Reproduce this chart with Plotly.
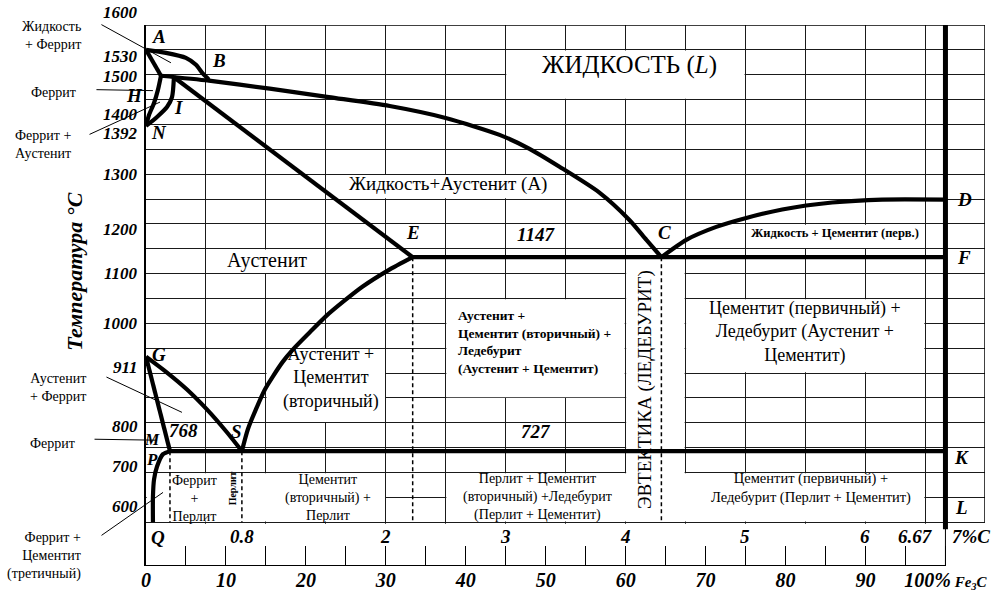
import plotly.graph_objects as go

# ---------------- data: Fe–Fe3C diagram as drawn (x = %C, t = °C) ----------------
AB_x  = [0.0, 0.167, 0.333, 0.417, 0.475, 0.525]
AB_t  = [1550, 1544, 1534, 1520, 1502, 1490]
AH_x  = [0.0, 0.125]
AH_t  = [1550, 1498]
HBC_x = [0.125, 0.525, 1.033, 1.525, 2.033, 2.5, 2.95, 3.2, 3.45, 3.783, 4.033, 4.175, 4.3]
HBC_t = [1498, 1488, 1472, 1455, 1437, 1413, 1379, 1351, 1315, 1263, 1208, 1168, 1133]
HN_x  = [0.125, 0.1, 0.067, 0.025, 0.0]
HN_t  = [1498, 1470, 1443, 1419, 1397]
NJ_x  = [0.0, 0.092, 0.175, 0.217, 0.233]
NJ_t  = [1397, 1415, 1435, 1455, 1495]
JE_x  = [0.233, 2.225]
JE_t  = [1495, 1133]
ECF_x = [2.225, 6.67]
ECF_t = [1133, 1133]
CD_x  = [4.3, 4.508, 4.758, 5.008, 5.308, 5.725, 6.142, 6.67]
CD_t  = [1133, 1168, 1194, 1212, 1229, 1243, 1249, 1249]
SE_x  = [0.8, 0.85, 0.917, 0.992, 1.058, 1.142, 1.225, 1.367, 1.5, 1.658, 1.808, 2.017, 2.225]
SE_t  = [743, 787, 827, 867, 893, 923, 947, 982, 1014, 1046, 1074, 1106, 1133]
GS_x  = [0.0, 0.175, 0.342, 0.508, 0.675, 0.8]
GS_t  = [933, 901, 867, 827, 781, 743]
GP_x  = [0.0, 0.2]
GP_t  = [933, 743]
PSK_x = [0.2, 6.67]
PSK_t = [743, 743]
PQ_x  = [0.2, 0.142, 0.092, 0.067, 0.058, 0.058]
PQ_t  = [743, 737, 712, 686, 652, 600]

# cementite (Fe3C) vertical, in % Fe3C
FE3C_x = [100, 100]
FE3C_t = [586, 1600]

# dashed drop lines under P, S, E, C
DROP_x   = [0.2, 0.8, 2.225, 4.3]
DROP_top = [743, 743, 1133, 1133]
DROP_bot = 600

# axis tick labels
T_TICKS    = [1600, 1530, 1500, 1400, 1392, 1300, 1200, 1100, 1000, 911, 800, 700, 600]
C_TICKS    = [0.8, 2, 3, 4, 5, 6]
C_TEXT     = ["0.8", "2", "3", "4", "5", "6"]
FE3C_TICKS = list(range(0, 101, 5))
FE3C_TEXT  = [("" if v % 10 else str(v)) for v in FE3C_TICKS]
FE3C_TEXT[-1] = "100%<span style='font-size:15px'> Fe<sub>3</sub>C</span>"

# point letters and isotherm numbers (label, %C, °C)
POINTS = [("A", 0.108, 1576), ("B", 0.608, 1528), ("I", 0.267, 1435),
          ("N", 0.108, 1383), ("G", 0.108, 937),
          ("S", 0.758, 783), ("768", 0.317, 785), ("727", 3.25, 783), ("E", 2.225, 1182),
          ("C", 4.325, 1182), ("1147", 3.25, 1178), ("D", 6.825, 1249), ("F", 6.825, 1132),
          ("K", 6.808, 730), ("L", 6.808, 630), ("Q", 0.1, 570)]

SERIF = "Liberation Serif"
LW = 4.2

fig = go.Figure()

def phase(x, t, shape="spline", width=LW):
    fig.add_trace(go.Scatter(x=x, y=t, mode="lines", hoverinfo="skip", showlegend=False,
                             line=dict(color="black", width=width, shape=shape, smoothing=0.7)))

for xs, ts in [(AB_x, AB_t), (HBC_x, HBC_t), (HN_x, HN_t), (NJ_x, NJ_t), (CD_x, CD_t),
               (SE_x, SE_t), (GS_x, GS_t), (PQ_x, PQ_t)]:
    phase(xs, ts)
for xs, ts in [(AH_x, AH_t), (JE_x, JE_t), (ECF_x, ECF_t), (GP_x, GP_t), (PSK_x, PSK_t)]:
    phase(xs, ts, shape="linear")

for xv, tt in zip(DROP_x, DROP_top):
    fig.add_trace(go.Scatter(x=[xv, xv], y=[tt, DROP_bot], mode="lines", hoverinfo="skip",
                             showlegend=False, line=dict(color="black", width=1.5, dash="4px,3px")))

fig.add_trace(go.Scatter(x=FE3C_x, y=FE3C_t, xaxis="x2", mode="lines", hoverinfo="skip",
                         showlegend=False, line=dict(color="black", width=5)))

# ---------------- white areas where the grid is cleared for text ----------------
def clear(x0, x1, t0, t1):
    fig.add_shape(type="rect", xref="x", yref="y", x0=x0 + 0.006, x1=x1 - 0.006,
                  y0=t0 + 1.5, y1=t1 - 1.5, fillcolor="white", line_width=0, layer="between")

clear(3.0, 5.0, 1450, 1550)
clear(1.5, 3.5, 1250, 1300)
clear(0.5, 1.5, 1100, 1150)
clear(5.0, 6.5, 1150, 1200)
clear(2.5, 4.0, 850, 1050)
clear(4.5, 6.5, 900, 1050)
clear(1.0, 2.0, 800, 950)
clear(4.0, 4.5, 600, 1133)
clear(0.0, 2.0, 600, 700)
clear(2.5, 6.5, 600, 700)
clear(-0.01, 7.01, 505, 598.5)

# frame
def frame(x0, x1, t0, t1, w=1.5):
    fig.add_shape(type="line", xref="x", yref="y", x0=x0, x1=x1, y0=t0, y1=t1,
                  line=dict(color="black", width=w), layer="above")

frame(0, 7.0, 1600, 1600)
frame(7.0, 7.0, 600, 1600)
frame(0, 6.67, 512.5, 512.5)
frame(6.67, 6.67, 512.5, 600, 1)

# ---------------- annotations ----------------
def txt(s, x, t, size=18, bold=False, italic=False, **kw):
    fig.add_annotation(x=x, y=t, xref="x", yref="y", text=s, showarrow=False,
                       font=dict(family=SERIF, size=size, color="black",
                                 weight="bold" if bold else "normal",
                                 style="italic" if italic else "normal"), **kw)

for lab, xv, tv in POINTS:
    txt(lab, xv, tv, size=19, bold=True, italic=True)
txt("H", 0, 1459, size=19, bold=True, italic=True, xshift=-12)
txt("M", 0.05, 766, size=16, bold=True, italic=True)
txt("P", 0.05, 726, size=17, bold=True, italic=True)

txt("ЖИДКОСТЬ (<i>L</i>)", 4.033, 1520, size=25)
txt("Жидкость+Аустенит (А)", 2.517, 1281, size=19)
txt("Аустенит", 1.008, 1126, size=20)
txt("Жидкость + Цементит (перв.)", 5.75, 1181, size=12.5, bold=True)
txt("Аустенит +<br>Цементит (вторичный) +<br>Ледебурит<br>(Аустенит + Цементит)",
    2.583, 963, size=13.5, bold=True, align="left", xanchor="left")
txt("Цементит (первичный) +<br>Ледебурит (Аустенит +<br>Цементит)", 5.5, 983, size=18)
txt("Аустенит +<br>Цементит<br>(вторичный)", 1.542, 891, size=18)
txt("Феррит<br>+<br>Перлит", 0.408, 648, size=14)
txt("Перлит", 0.717, 668, size=10, bold=True, textangle=-90)
txt("Цементит<br>(вторичный) +<br>Перлит", 1.517, 650, size=14)
txt("Перлит + Цементит<br>(вторичный) +Ледебурит<br>(Перлит + Цементит)", 3.267, 650, size=14)
txt("Цементит (первичный) +<br>Ледебурит (Перлит + Цементит)", 5.55, 668, size=14.5)
txt("ЭВТЕКТИКА (ЛЕДЕБУРИТ)", 4.167, 867, size=19, textangle=-90)

# %C scale labels inside the bottom strip
for v, s in zip(C_TICKS, C_TEXT):
    txt(s, v, 572, size=19, bold=True, italic=True)
txt("6.67", 6.67, 572, size=19, bold=True, italic=True, xanchor="right", xshift=-10)
txt("7%C", 6.67, 572, size=19, bold=True, italic=True, xanchor="left", xshift=5)

# temperature labels
nudge = {1600: 13, 1530: 3, 1500: -2, 1400: 10, 1392: -5, 1200: -6, 800: -4, 700: 6, 600: 16}
for v in T_TICKS:
    fig.add_annotation(x=0, xref="paper", y=v, yref="y", text=str(v), showarrow=False,
                       xanchor="right", xshift=-6, yshift=nudge.get(v, 0),
                       font=dict(family=SERIF, size=17, color="black", weight="bold", style="italic"))

fig.add_annotation(x=0, xref="paper", y=1104, yref="y", text="Температура °C", showarrow=False,
                   textangle=-90, xshift=-71, xanchor="center", yanchor="middle",
                   font=dict(family=SERIF, size=22, color="black", weight="bold", style="italic"))

# side region names with pointer lines
def side(s, t, xshift, xanchor, align):
    fig.add_annotation(x=0, xref="paper", y=t, yref="y", text=s, showarrow=False,
                       xanchor=xanchor, align=align, xshift=xshift,
                       font=dict(family=SERIF, size=14, color="black"))

side("Жидкость<br>+ Феррит", 1579, -63, "right", "right")
side("Феррит", 1464, -68, "right", "right")
side("Феррит +<br>Аустенит", 1359, -133, "left", "left")
side("Аустенит<br>+ Феррит", 870, -58, "right", "right")
side("Феррит", 759, -69, "right", "right")
side("Феррит +<br>Цементит<br>(третичный)", 532, -63, "right", "right")

for xt, tt, ax, ay in [(0.208, 1524, -71, -39), (0.058, 1468, -58, -1), (0.117, 1445, -72, 33),
                       (0.30, 821, -77, -36), (0.092, 765, -64, -1), (0.142, 660, -63, 44)]:
    fig.add_annotation(x=xt, y=tt, xref="x", yref="y", text="", showarrow=True, arrowhead=0,
                       arrowwidth=1, arrowcolor="black", ax=ax, ay=ay, standoff=0, startstandoff=0)

fig.update_layout(
    width=1000, height=604, autosize=False,
    margin=dict(l=146, r=13, t=25, b=37),
    paper_bgcolor="white", plot_bgcolor="white",
    showlegend=False,
    xaxis=dict(range=[0, 7.0], tick0=0, dtick=0.5, showgrid=True, gridcolor="#1a1a1a",
               gridwidth=1, showticklabels=False, ticks="", zeroline=False, showline=False),
    yaxis=dict(range=[512, 1600], tick0=600, dtick=50, showgrid=True, gridcolor="#1a1a1a",
               gridwidth=1, showticklabels=False, ticks="", zeroline=False,
               showline=True, linecolor="black", linewidth=1.5),
    xaxis2=dict(overlaying="x", anchor="y", side="bottom", range=[0, 7.0 / 6.67 * 100],
                tickmode="array", tickvals=FE3C_TICKS, ticktext=FE3C_TEXT,
                ticks="inside", ticklen=20, tickwidth=1, tickcolor="black",
                showgrid=False, zeroline=False, showline=False,
                tickfont=dict(family=SERIF, size=20, color="black", weight="bold", style="italic")),
)

fig.write_html("out.html", config={"displayModeBar": False},
               post_script="document.body.style.margin='0';document.body.style.overflow='hidden';")
